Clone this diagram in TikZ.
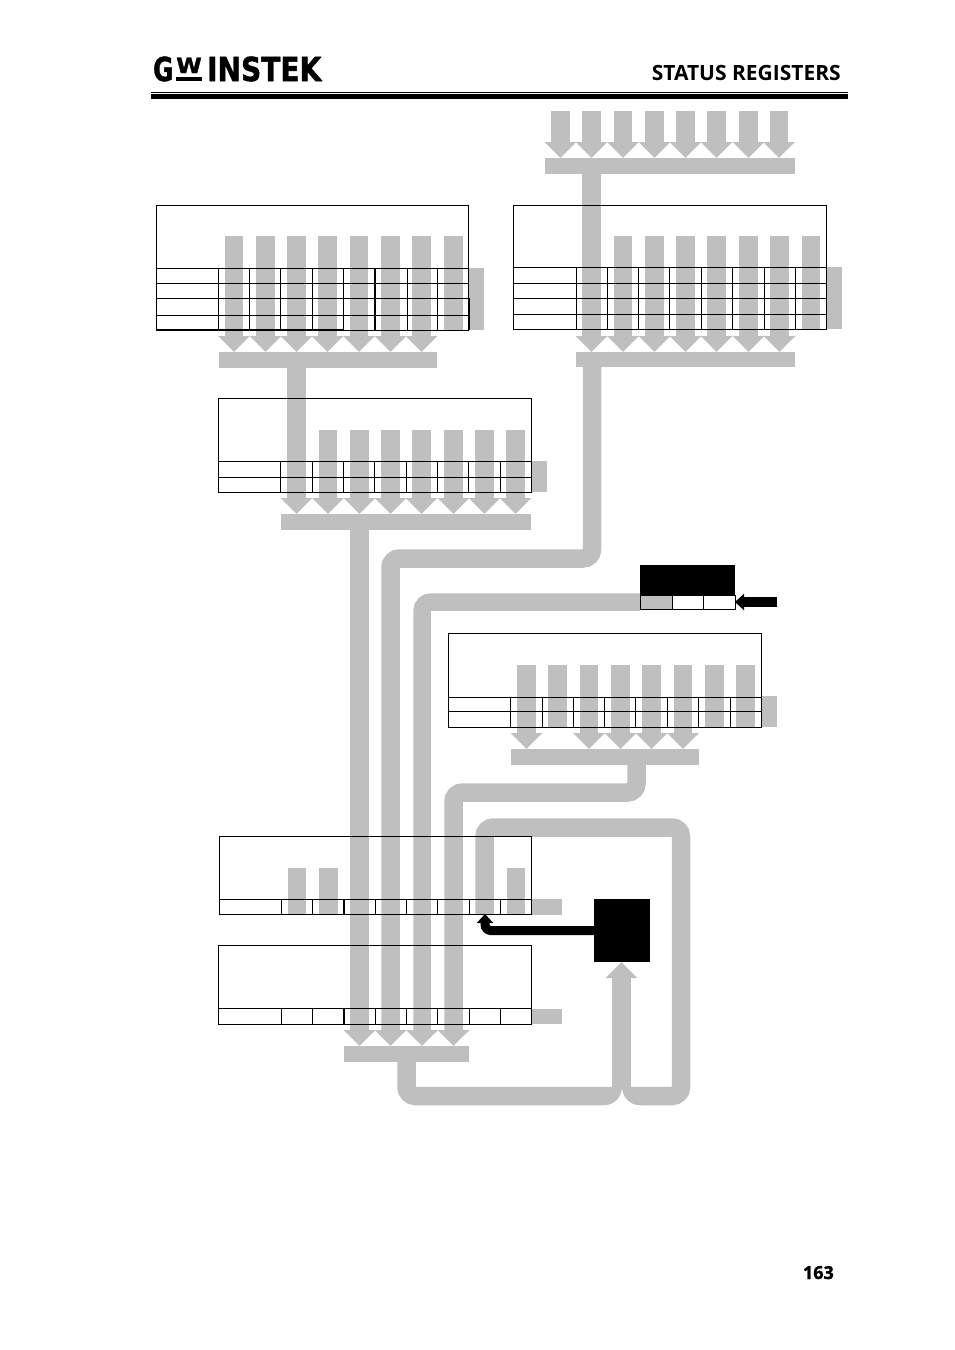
\documentclass[tikz,border=0pt]{standalone}
\usepackage{fontspec}
\usetikzlibrary{arrows.meta}
\newfontfamily\headfont{Open Sans}
\newfontfamily\pagefont{Open Sans}[BoldFeatures={FakeBold=1.4}]
\newfontfamily\logofont{DejaVu Sans}[BoldFeatures={FakeBold=1.6}]
\definecolor{barGray}{HTML}{BFBFBF}
\tikzset{
	busbar/.style={fill=barGray, inner sep=0pt, outer sep=0pt, anchor=north west},
	regframe/.style={draw, line width=1pt, inner sep=0pt, outer sep=0pt, anchor=north west},
	regline/.style={line width=1pt},
	regheavy/.style={line width=2pt},
	plainbar/.style={draw=barGray, line width=18.5pt},
	busarrow/.style={plainbar, -{Triangle[width=31pt,length=16pt]}},
	pipe/.style={plainbar, rounded corners=9pt},
	ctrlarrow/.style={draw=black, line width=9pt, rounded corners=6pt, -{Triangle[width=16pt,length=9pt]}}
}
\begin{document}
\begin{tikzpicture}[x=1pt, y=-1pt]
	\useasboundingbox (0,0) rectangle (954,1350);

	% page header
	\node[font=\logofont\bfseries\fontsize{33}{33}\selectfont, inner sep=0pt, xscale=0.75, anchor=west] (logoG) at (153,69) {G};
	\node[font=\logofont\bfseries\fontsize{21}{21}\selectfont, inner sep=0pt, xscale=1.1, anchor=base] (logoW) at (189,73) {W};
	\node[fill=black, inner sep=0pt, minimum width=26pt, minimum height=4pt, anchor=north west] (logoBar) at (176,77) {};
	\node[font=\logofont\bfseries\fontsize{33}{33}\selectfont, inner sep=0pt, xscale=0.85, anchor=west] (logoName) at (207,69) {INSTEK};
	\node[font=\headfont\bfseries\fontsize{21}{21}\selectfont, inner sep=0pt, anchor=base east] (title) at (841,80) {STATUS REGISTERS};
	\node[font=\pagefont\bfseries\fontsize{18}{18}\selectfont, inner sep=0pt, anchor=base east] (pageno) at (834,1279) {163};
	\draw[line width=1pt] (151,92) -- (848,92);
	\fill (151,94) rectangle (848,99);

	% buses
	\node[busbar, minimum width=250pt, minimum height=16pt] (busTop) at (545,158) {};
	\node[busbar, minimum width=218pt, minimum height=16pt] (busA) at (219,352) {};
	\node[busbar, minimum width=219pt, minimum height=15pt] (busB) at (576,352) {};
	\node[busbar, minimum width=250pt, minimum height=16pt] (busC) at (281,514) {};
	\node[busbar, minimum width=188pt, minimum height=16pt] (busD) at (511,749) {};
	\node[busbar, minimum width=125pt, minimum height=16pt] (busE) at (344,1046) {};
	\coordinate (tapTop) at (591.5,174);
	\coordinate (tapA) at (296.5,368);
	\coordinate (tapB) at (592,367);
	\coordinate (tapC) at (359.5,530);
	\coordinate (tapD) at (636.5,765);
	\coordinate (tapE) at (406.5,1062);

	% gray bit arrows
	\foreach \c in {560.5,591.5,623,654.5,685.5,716.5,748.5,779}
		\draw[busarrow] (\c,111) -- (\c,158);
	\foreach \c in {234,265.5,296.5,327.5,359,390.5,421.5}
		\draw[busarrow] (\c,236) -- (\c,352);
	\draw[plainbar] (453.5,236) -- (453.5,330);
	\draw[busarrow] (tapTop) -- (591.5,352);
	\foreach \c in {623,654.5,685.5,716.5,748.5,779.5}
		\draw[busarrow] (\c,236) -- (\c,352);
	\draw[plainbar] (811,236) -- (811,329);
	\draw[busarrow] (tapA) -- (296.5,514);
	\foreach \c in {328,359.5,390.5,421.5,453.5,484.5,515.5}
		\draw[busarrow] (\c,430) -- (\c,514);
	\foreach \c in {526.5,589,620.5,651.5,683}
		\draw[busarrow] (\c,665) -- (\c,749);
	\foreach \c in {557.5,714.5,745.5}
		\draw[plainbar] (\c,665) -- (\c,727);
	\foreach \c in {297,328.5,516}
		\draw[plainbar] (\c,868) -- (\c,914);

	% long pipes
	\draw[busarrow] (tapC) -- (359.5,1046);
	\begin{scope}[rounded corners=9pt]
		\draw[busarrow] (tapB) -- (592,558.5) -- (390.5,558.5) -- (390.5,1046);
		\draw[busarrow, line width=17.5pt] (640,602) -- (422,602) -- (422,1046);
		\draw[busarrow] (tapD) -- (636.5,792.5) -- (453.5,792.5) -- (453.5,1046);
	\end{scope}
	\draw[pipe] (484.5,914) -- (484.5,827.5) -- (681,827.5) -- (681,1096) -- (640,1096);
	\draw[pipe] (tapE) -- (406.5,1096) -- (604,1096);
	\fill[barGray] (604,1086.75) -- (622,1086.75) .. controls (622,1097) and (614,1105.25) .. (604,1105.25) -- cycle;
	\fill[barGray] (640,1086.75) -- (622,1086.75) .. controls (622,1097) and (630,1105.25) .. (640,1105.25) -- cycle;
	\draw[busarrow] (621.5,1088) -- (621.5,962);

	% stubs on the right of the registers
	\fill[barGray] (469,268) rectangle (484,330);
	\fill[barGray] (827,267) rectangle (842,329);
	\fill[barGray] (532,461) rectangle (547,492);
	\fill[barGray] (762,696) rectangle (777,727);
	\fill[barGray] (532,899) rectangle (562,915);
	\fill[barGray] (532,1009) rectangle (562,1024);

	% register A
	\node[regframe, minimum width=312pt, minimum height=125pt] (regA) at (156,205) {};
	\foreach \r in {268,283,298,315}
		\draw[regline] (156,\r) -- (468,\r);
	\foreach \c in {218,249,280,312,343,407,437}
		\draw[regline] (\c,268) -- (\c,330);
	\draw[regheavy] (375,268) -- (375,330);
	\draw[regheavy] (156,330) -- (343,330);
	\draw[regheavy] (469,298) -- (469,330);

	% register B
	\node[regframe, minimum width=313pt, minimum height=124pt] (regB) at (513.5,205) {};
	\foreach \r in {267,283,298,314}
		\draw[regline] (513.5,\r) -- (826.5,\r);
	\foreach \c in {576,607,638,669,701,732,764,795}
		\draw[regline] (\c,267) -- (\c,329);

	% register C
	\node[regframe, minimum width=313pt, minimum height=94pt] (regC) at (218.5,398) {};
	\draw[regline] (218.5,461) -- (531.5,461);
	\draw[regline] (218.5,477) -- (531.5,477);
	\foreach \c in {280,312,343,374,406,437,468,500}
		\draw[regline] (\c,461) -- (\c,492);

	% output queue
	\node[fill=black, inner sep=0pt, outer sep=0pt, minimum width=95pt, minimum height=30pt, anchor=north west] (regQ) at (640,565) {};
	\fill[barGray] (640,595) rectangle (672,609);
	\draw[regline] (640,595) rectangle (735,609);
	\draw[regline] (672,595) -- (672,609);
	\draw[regline] (703,595) -- (703,609);
	\coordinate (feedQ) at (777,602);
	\draw[ctrlarrow, line width=10pt] (feedQ) -- (735,602);

	% register D
	\node[regframe, minimum width=313pt, minimum height=94pt] (regD) at (448.5,633) {};
	\draw[regline] (448.5,697) -- (761.5,697);
	\draw[regline] (448.5,711) -- (761.5,711);
	\foreach \c in {510,542,573,604,635,667,698,730}
		\draw[regline] (\c,697) -- (\c,727);

	% register E
	\node[regframe, minimum width=312pt, minimum height=78pt] (regE) at (219.5,836) {};
	\draw[regline] (219.5,899) -- (531.5,899);
	\foreach \c in {281,312,375,406,437,469,500}
		\draw[regline] (\c,899) -- (\c,914);
	\draw[regheavy] (344,899) -- (344,914);

	% register F
	\node[regframe, minimum width=313pt, minimum height=79pt] (regF) at (218.5,945) {};
	\draw[regline] (218.5,1008) -- (531.5,1008);
	\foreach \c in {281,312,375,406,437,469,500}
		\draw[regline] (\c,1008) -- (\c,1024);
	\draw[regheavy] (344,1008) -- (344,1024);

	% request box
	\node[fill=black, inner sep=0pt, outer sep=0pt, minimum width=56pt, minimum height=63pt, anchor=north west] (reqBox) at (594,899) {};
	\coordinate (reqOut) at (594,930.5);
	\draw[ctrlarrow] (reqOut) -- (485,930.5) -- (485,914);
\end{tikzpicture}
\end{document}
